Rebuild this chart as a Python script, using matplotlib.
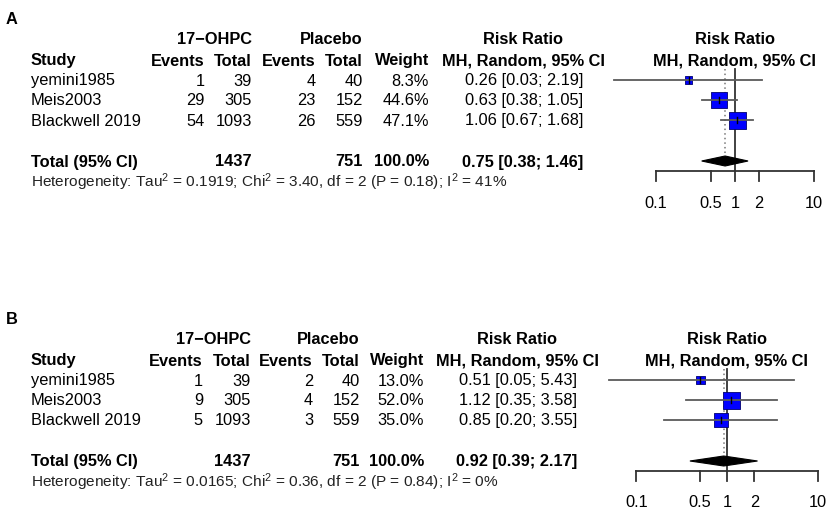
import matplotlib
matplotlib.use("Agg")
import matplotlib.pyplot as plt
from matplotlib.patches import Polygon
import numpy as np

plt.rcParams['font.family'] = ['Liberation Sans', 'DejaVu Sans']
plt.rcParams['mathtext.fontset'] = 'custom'
plt.rcParams['mathtext.rm'] = 'Liberation Sans'
plt.rcParams['mathtext.it'] = 'Liberation Sans:italic'
plt.rcParams['mathtext.bf'] = 'Liberation Sans:bold'

# ---------------- data ----------------
studies = ["yemini1985", "Meis2003", "Blackwell 2019"]

# Panel A
ev_t_A = [1, 29, 54]
tot_t_A = [39, 305, 1093]
ev_p_A = [4, 23, 26]
tot_p_A = [40, 152, 559]
weight_A = [8.3, 44.6, 47.1]
rr_A = [0.26, 0.63, 1.06]
lo_A = [0.03, 0.38, 0.67]
hi_A = [2.19, 1.05, 1.68]
pooled_A = [0.75, 0.38, 1.46]
het_A = r"Heterogeneity: Tau$^2$ = 0.1919; Chi$^2$ = 3.40, df = 2 (P = 0.18); I$^2$ = 41%"

# Panel B
ev_t_B = [1, 9, 5]
tot_t_B = [39, 305, 1093]
ev_p_B = [2, 4, 3]
tot_p_B = [40, 152, 559]
weight_B = [13.0, 52.0, 35.0]
rr_B = [0.51, 1.12, 0.85]
lo_B = [0.05, 0.35, 0.20]
hi_B = [5.43, 3.58, 3.55]
pooled_B = [0.92, 0.39, 2.17]
het_B = r"Heterogeneity: Tau$^2$ = 0.0165; Chi$^2$ = 0.36, df = 2 (P = 0.84); I$^2$ = 0%"

sum_t = 1437
sum_p = 751
tick_vals = [0.1, 0.5, 1, 2, 10]
tick_labels = ["0.1", "0.5", "1", "2", "10"]

W, H = 829, 510
fig = plt.figure(figsize=(W / 100, H / 100), dpi=100)

FS = 11.8
FS_HET = 11.1
BLUE = "#0000FF"
GREY = "#5a5a5a"
DARK = "#333333"


def ftext(x, y, s, ha="left", bold=False, size=FS, color="black"):
    fig.text(x / W, 1 - y / H, s, ha=ha, va="center", fontsize=size,
             fontweight="bold" if bold else "normal", color=color)


def panel(label, y_off, cols, ev_t, tot_t, ev_p, tot_p, weight, rr, lo, hi,
          pooled, het, x_one, decade):
    c_study, c_evt, c_tott, c_evp, c_totp, c_w, c_rr_c, c_rr_r = cols
    ftext(6, 20 + y_off, label, bold=True, size=11.8)
    # group headers
    ftext(c_tott, 40 + y_off, "17\u2212OHPC", ha="right", bold=True)
    ftext(c_totp, 40 + y_off, "Placebo", ha="right", bold=True)
    ftext(c_rr_c, 40 + y_off, "Risk Ratio", ha="center", bold=True)
    ftext(x_one, 40 + y_off, "Risk Ratio", ha="center", bold=True)
    # column headers
    hy = 61 + y_off
    ftext(c_study, hy, "Study", bold=True)
    ftext(c_evt, hy, "Events", ha="right", bold=True)
    ftext(c_tott, hy, "Total", ha="right", bold=True)
    ftext(c_evp, hy, "Events", ha="right", bold=True)
    ftext(c_totp, hy, "Total", ha="right", bold=True)
    ftext(c_w, hy, "Weight", ha="right", bold=True)
    ftext(c_rr_c, hy, "MH, Random, 95% CI", ha="center", bold=True)
    ftext(x_one, hy, "MH, Random, 95% CI", ha="center", bold=True)
    # rows
    for i, s in enumerate(studies):
        y = 81 + 20 * i + y_off
        ftext(c_study, y, s)
        ftext(c_evt, y, f"{ev_t[i]}", ha="right")
        ftext(c_tott, y, f"{tot_t[i]}", ha="right")
        ftext(c_evp, y, f"{ev_p[i]}", ha="right")
        ftext(c_totp, y, f"{tot_p[i]}", ha="right")
        ftext(c_w, y, f"{weight[i]:.1f}%", ha="right")
        ftext(c_rr_r, y, f"{rr[i]:.2f} [{lo[i]:.2f}; {hi[i]:.2f}]", ha="right")
    ty = 162 + y_off
    ftext(c_study, ty, "Total (95% CI)", bold=True)
    ftext(c_tott, ty, f"{sum_t}", ha="right", bold=True)
    ftext(c_totp, ty, f"{sum_p}", ha="right", bold=True)
    ftext(c_w, ty, f"{sum(weight):.1f}%", ha="right", bold=True)
    ftext(c_rr_r, ty, f"{pooled[0]:.2f} [{pooled[1]:.2f}; {pooled[2]:.2f}]",
          ha="right", bold=True)
    ftext(c_study, 182 + y_off, het, size=FS_HET, color="#222222")

    # forest axes, positioned in pixels
    px_l, px_r = 590, 829
    px_t, px_b = 50 + y_off, 215 + y_off
    ax = fig.add_axes([px_l / W, 1 - px_b / H, (px_r - px_l) / W, (px_b - px_t) / H])
    ax.set_xscale("log")
    ax.set_xlim(10 ** ((px_l - x_one) / decade), 10 ** ((px_r - x_one) / decade))
    row0 = 81 + y_off
    ax.set_ylim((px_b - row0) / 20, (px_t - row0) / 20)
    ax.axis("off")

    total_row = 4.05
    axis_row = 4.55
    # reference line at 1 and dotted pooled line
    ax.plot([1, 1], [-0.55, axis_row], color=DARK, lw=1.3, zorder=1)
    ax.plot([pooled[0], pooled[0]], [-0.55, total_row - 0.25], color="#777777",
            lw=1.1, ls=(0, (1, 2)), zorder=1)
    # squares
    side_max = 17.0
    sides = side_max * np.sqrt(np.array(weight)) / np.sqrt(max(weight))
    sizes = (sides * 72 / 100) ** 2
    ax.scatter(rr, range(len(rr)), marker="s", s=sizes, facecolor=BLUE,
               edgecolor="#000070", linewidths=0.6, zorder=3)
    for i in range(len(rr)):
        ax.plot([lo[i], hi[i]], [i, i], color=GREY, lw=1.3, zorder=4)
        ax.plot([rr[i], rr[i]], [i - 0.13, i + 0.13], color="black", lw=1.0, zorder=5)
    # diamond
    est, dlo, dhi = pooled
    ax.add_patch(Polygon([(dlo, total_row), (est, total_row - 0.25),
                          (dhi, total_row), (est, total_row + 0.25)],
                         closed=True, facecolor="black", edgecolor="black",
                         lw=0.8, zorder=3))
    # x axis
    ax.plot([tick_vals[0], tick_vals[-1]], [axis_row, axis_row], color=DARK, lw=1.3)
    for v, t in zip(tick_vals, tick_labels):
        ax.plot([v, v], [axis_row, axis_row + 0.5], color=DARK, lw=1.3)
        ax.text(v, axis_row + 1.55, t, ha="center", va="center", fontsize=FS)


panel("A", 0, (31, 205, 252, 316, 363, 429, 523, 583),
      ev_t_A, tot_t_A, ev_p_A, tot_p_A, weight_A, rr_A, lo_A, hi_A,
      pooled_A, het_A, 735, 79.3)
panel("B", 300, (31, 203, 251, 313, 360, 424, 517, 577),
      ev_t_B, tot_t_B, ev_p_B, tot_p_B, weight_B, rr_B, lo_B, hi_B,
      pooled_B, het_B, 727, 90.7)

fig.savefig("out.png", dpi=100, facecolor="white")
